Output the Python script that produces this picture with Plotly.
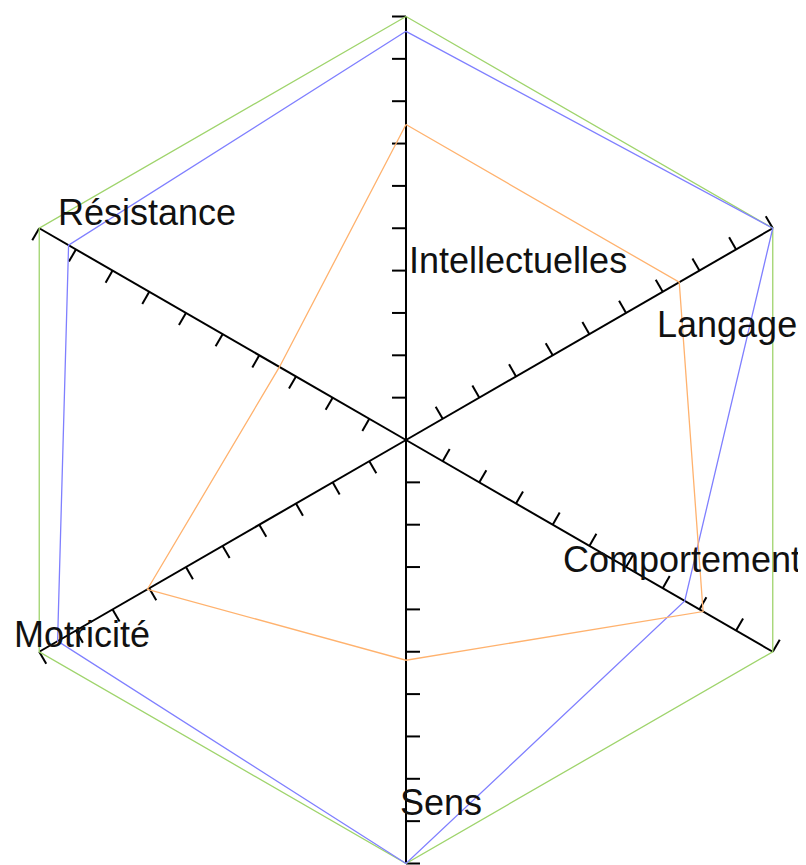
"""Radar chart of six skill areas, drawn on plain cartesian axes."""
import numpy as np
import plotly.graph_objects as go

categories = ["Intellectuelles", "Langage", "Comportement", "Sens", "Motricité", "Résistance"]
angles_deg = [90, 30, -30, -90, -150, 150]

max_values = [10, 10, 10, 10, 10, 10]
blue_values = [9.65, 10, 7.6, 10, 9.5, 9.2]
orange_values = [7.45, 7.45, 8.1, 5.2, 7.05, 3.45]

tick_values = [1, 2, 3, 4, 5, 6, 7, 8, 9, 10]

# label anchor points (left edge, vertical middle) in data units
label_x = [0.02, 5.88, 3.66, -0.19, -9.31, -8.27]
label_y = [4.25, 2.72, -2.83, -8.57, -4.60, 5.38]

SCALE = 42.35          # pixels per data unit
# the page body has an 8px margin, so the figure is shrunk and shifted by it
CX, CY = 398, 432      # centre of the chart in figure pixels
W, H = 798, 857
TICK_LEN = 0.33

theta = np.radians(angles_deg)


def polygon(values):
    r = np.array(values + values[:1], dtype=float)
    t = np.append(theta, theta[0])
    return r * np.cos(t), r * np.sin(t)


fig = go.Figure()

# spokes
sx, sy = [], []
for t in theta:
    sx += [0, 10 * np.cos(t), None]
    sy += [0, 10 * np.sin(t), None]
fig.add_trace(go.Scatter(x=sx, y=sy, mode="lines",
                         line=dict(color="black", width=2), hoverinfo="skip"))

# tick marks on the counter-clockwise side of each spoke
tx, ty = [], []
for t in theta:
    nx, ny = np.cos(t + np.pi / 2), np.sin(t + np.pi / 2)
    for v in tick_values:
        px, py = v * np.cos(t), v * np.sin(t)
        tx += [px, px + TICK_LEN * nx, None]
        ty += [py, py + TICK_LEN * ny, None]
fig.add_trace(go.Scatter(x=tx, y=ty, mode="lines",
                         line=dict(color="black", width=2), hoverinfo="skip"))

for vals, color in [(max_values, "#9fd46c"),
                    (blue_values, "#7f7fff"),
                    (orange_values, "#ffb26e")]:
    x, y = polygon(vals)
    fig.add_trace(go.Scatter(x=x, y=y, mode="lines",
                             line=dict(color=color, width=1.3)))

for name, x, y in zip(categories, label_x, label_y):
    fig.add_annotation(x=x, y=y, text=name, showarrow=False,
                       xanchor="left", yanchor="middle",
                       font=dict(family="Liberation Sans, Arial", size=36,
                                 color="#111111"))

fig.update_xaxes(range=[-CX / SCALE, (W - CX) / SCALE], visible=False)
fig.update_yaxes(range=[-(H - CY) / SCALE, CY / SCALE], visible=False)
fig.update_layout(width=W, height=H, showlegend=False,
                  margin=dict(l=0, r=0, t=0, b=0),
                  plot_bgcolor="white", paper_bgcolor="white")

fig.write_html("out.html")
